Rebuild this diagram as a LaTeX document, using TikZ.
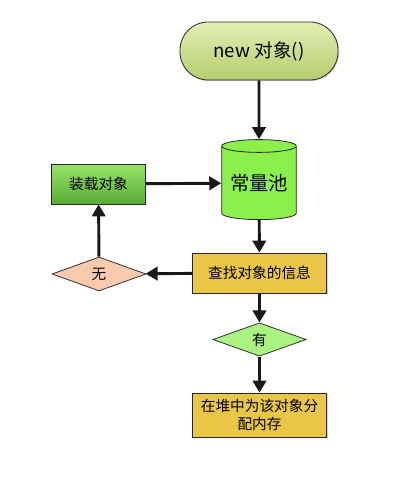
\documentclass[tikz,border=0pt]{standalone}
\usepackage{fontspec}
\setmainfont{Noto Sans CJK SC}
\usetikzlibrary{shapes.geometric,arrows.meta,shadows}
\definecolor{topA}{HTML}{E2EEB4}
\definecolor{topB}{HTML}{B4CE6C}
\definecolor{cylG}{HTML}{8CF04C}
\definecolor{loadA}{HTML}{98E468}
\definecolor{loadB}{HTML}{58AC34}
\definecolor{gold}{HTML}{EAC646}
\definecolor{peach}{HTML}{F8CAAE}
\definecolor{ygreen}{HTML}{AAF282}
\tikzset{
  box/.style={draw=black!85, line width=0.6pt, align=center, inner sep=1pt,
    drop shadow={shadow xshift=0.8pt, shadow yshift=-0.8pt, opacity=0.35}},
  dia/.style={draw=black!80, line width=0.6pt, diamond, inner sep=0pt, aspect=2.8},
  flow/.style={line width=2.2pt, black!90, -{Triangle[length=9pt,width=10pt]}},
  txt/.style={font=\fontsize{11}{14}\selectfont}
}
\begin{document}
\begin{tikzpicture}[x=0.75pt,y=-0.75pt]
\useasboundingbox (0,0) rectangle (400,485);
\node[box, rounded corners=21pt, top color=topA, bottom color=topB,
  minimum width=118.5pt, minimum height=43.5pt,
  font=\fontsize{14}{16}\selectfont] (new) at (259,51) {new 对象()};
\node[draw=black!85, line width=0.6pt, cylinder, shape border rotate=90, aspect=0.22,
  fill=cylG, minimum width=56pt, minimum height=60pt, inner sep=0pt,
  font=\fontsize{14.5}{16}\selectfont] (pool) at (259,183) {常量池};
\node[box, top color=loadA, bottom color=loadB, minimum width=70pt, minimum height=30pt, txt] (load) at (98.5,184) {装载对象};
\node[box, fill=gold, minimum width=101pt, minimum height=30pt, txt] (find) at (259.5,273) {查找对象的信息};
\node[dia, fill=peach, minimum width=70.5pt, minimum height=25.5pt, txt] (no) at (99,274) {无};
\node[dia, fill=ygreen, minimum width=70pt, minimum height=25pt, txt] (yes) at (259.5,339.5) {有};
\node[box, fill=gold, minimum width=101pt, minimum height=33pt, txt] (alloc) at (259.5,415) {在堆中为该对象分\\配内存};
\draw[flow] (new) -- (pool);
\draw[flow] (pool) -- (find);
\draw[flow] (find) -- (no);
\draw[flow] (no) -- (load);
\draw[flow] (load) -- (pool);
\draw[flow] (find) -- (yes);
\draw[flow] (yes) -- (alloc);
\end{tikzpicture}
\end{document}
